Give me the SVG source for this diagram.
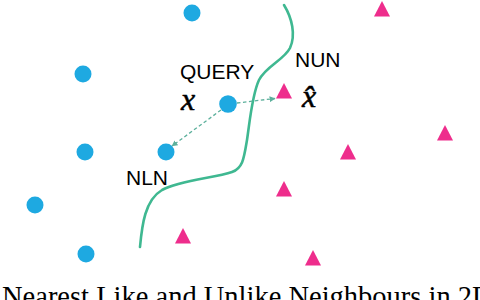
<svg xmlns="http://www.w3.org/2000/svg" width="480" height="300" viewBox="0 0 480 300">
<style>
.like{fill:#1ea9e1}
.unlike{fill:#ee2d8c}
.lbl{font-family:"Liberation Sans",Arial,sans-serif;font-size:21px;fill:#000}
.math{font-family:"Liberation Serif","Times New Roman",serif;font-style:italic;font-size:32px;fill:#000;stroke:#000;stroke-width:0.5}
.cap{font-family:"Liberation Serif","Times New Roman",serif;font-size:28.5px;fill:#000}
.link{fill:none;stroke:#5cb09c;stroke-width:1.3;stroke-dasharray:3.5 2.5}
.boundary{fill:none;stroke:#3fb891;stroke-width:2.6;stroke-linecap:round}
</style>
<defs>
<marker id="ah" viewBox="0 0 10 10" refX="9" refY="5" markerWidth="6" markerHeight="6" markerUnits="userSpaceOnUse" orient="auto">
<path d="M0,0 L10,5 L0,10 z" fill="#5cb09c"/>
</marker>
<polygon id="tri" points="0,-8 8,7.5 -8,7.5"/>
</defs>
<rect width="480" height="300" fill="#fff"/>
<g id="boundary">
<path class="boundary" d="M284,5 C292,18 296,35 290,48 C284,60 266,66 259,80 C252,95 250,120 247,140 C244,158 243,168 232,172 C215,178 180,180 162,190 C145,200 142,225 140,247"/>
</g>
<g id="connectors">
<line class="link" x1="237" y1="103" x2="275" y2="98.5" marker-end="url(#ah)"/>
<line class="link" x1="221" y1="110" x2="172" y2="146" marker-end="url(#ah)"/>
</g>
<g id="like-points">
<circle id="l1" class="like" cx="192" cy="13" r="8.5"/>
<circle id="l2" class="like" cx="83" cy="74" r="8.5"/>
<circle id="l3" class="like" cx="85" cy="152" r="8.5"/>
<circle id="l4" class="like" cx="35" cy="205" r="8.5"/>
<circle id="l5" class="like" cx="86" cy="254" r="8.5"/>
</g>
<g id="query">
<circle class="like" cx="228" cy="104" r="8.8"/>
<text class="lbl" x="180" y="79">QUERY</text>
<text class="math" x="181" y="110">x</text>
</g>
<g id="nln">
<circle class="like" cx="166" cy="152" r="8.5"/>
<text class="lbl" x="126" y="185">NLN</text>
</g>
<g id="nun">
<use href="#tri" class="unlike" x="284" y="91"/>
<text class="lbl" x="295" y="67">NUN</text>
<text class="math" x="302" y="107">x̂</text>
</g>
<g id="unlike-points">
<use href="#tri" class="unlike" x="382" y="9"/>
<use href="#tri" class="unlike" x="445" y="133"/>
<use href="#tri" class="unlike" x="348" y="152"/>
<use href="#tri" class="unlike" x="284" y="189"/>
<use href="#tri" class="unlike" x="183" y="236"/>
<use href="#tri" class="unlike" x="313" y="258"/>
</g>
<text class="cap" x="2" y="306">Nearest Like and Unlike Neighbours in 2D</text>
</svg>
